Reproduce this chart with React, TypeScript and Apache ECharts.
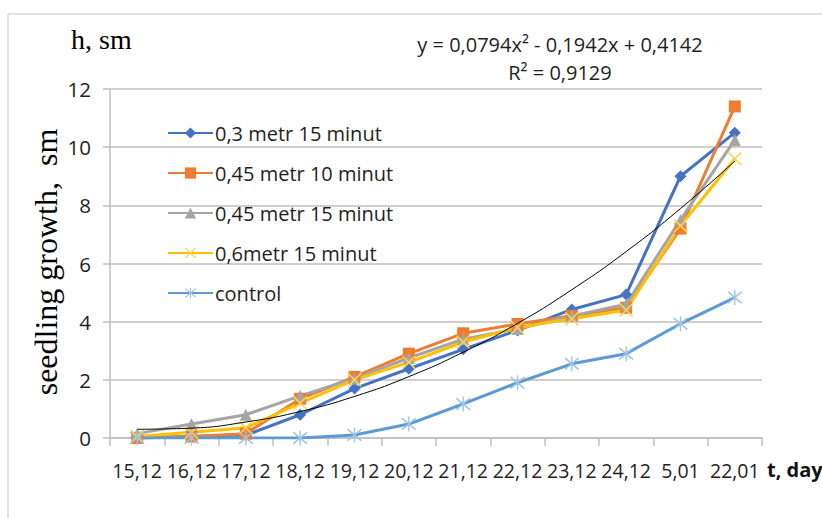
import React, { useEffect, useRef } from "react";
import * as echarts from "echarts";

const categories = ["15,12", "16,12", "17,12", "18,12", "19,12", "20,12", "21,12", "22,12", "23,12", "24,12", "5,01", "22,01"];
const seriesNames = ["0,3 metr 15 minut", "0,45 metr 10 minut", "0,45 metr 15 minut", "0,6metr 15 minut", "control"];
const s03_15 = [0, 0.05, 0.1, 0.8, 1.7, 2.38, 3.05, 3.7, 4.42, 4.93, 9.0, 10.5];
const s045_10 = [0, 0.05, 0.15, 1.35, 2.1, 2.9, 3.6, 3.92, 4.2, 4.48, 7.2, 11.4];
const s045_15 = [0.15, 0.48, 0.8, 1.45, 2.05, 2.75, 3.4, 3.75, 4.2, 4.6, 7.5, 10.25];
const s06_15 = [0.05, 0.2, 0.35, 1.2, 2.0, 2.6, 3.3, 3.8, 4.1, 4.4, 7.3, 9.6];
const control = [0, 0, 0, 0, 0.1, 0.48, 1.17, 1.9, 2.55, 2.9, 3.93, 4.83];
const trend = [0.3, 0.34, 0.55, 0.91, 1.43, 2.11, 2.95, 3.94, 5.1, 6.41, 7.89, 9.52];
const yTicks = { min: 0, max: 12, interval: 2 };
const equationText = "y = 0,0794x\u00B2 - 0,1942x + 0,4142";
const r2Text = "R\u00B2 = 0,9129";

const xPath = "path://M0,0.8L0.8,0L5,4.2L9.2,0L10,0.8L5.8,5L10,9.2L9.2,10L5,5.8L0.8,10L0,9.2L4.2,5Z";
const starPath = "path://M0,0.8L0.8,0L5,4.2L9.2,0L10,0.8L5.8,5L10,9.2L9.2,10L5,5.8L0.8,10L0,9.2L4.2,5ZM4.55,-1L5.45,-1L5.45,11L4.55,11Z";

const SANS = "'Open Sans', sans-serif";
const SERIF = "'Liberation Serif', 'Times New Roman', serif";
const TXT = "#1f1f1f";

export default function App() {
  const ref = useRef<HTMLDivElement>(null);
  useEffect(() => {
    if (!ref.current) return;
    const chart = echarts.init(ref.current, undefined, { renderer: "svg" });
    const mk = (name: string, data: number[], color: string, symbol: string, size: number, symColor: string) => ({
      name,
      type: "line",
      data,
      symbol,
      symbolSize: size,
      showSymbol: true,
      lineStyle: { color, width: 3 },
      itemStyle: { color: symColor, borderColor: symColor, borderWidth: 0 },
      z: 3,
    });
    chart.setOption({
      animation: false,
      grid: { left: 110, right: 60, top: 89, bottom: 80, containLabel: false },
      legend: {
        orient: "vertical",
        left: 162,
        top: 118,
        itemWidth: 45,
        itemHeight: 14,
        itemGap: 20,
        data: seriesNames,
        textStyle: { fontFamily: SANS, fontSize: 20, color: TXT, lineHeight: 20, padding: [0, 0, 0, -3] },
      },
      xAxis: {
        type: "category",
        data: categories,
        boundaryGap: true,
        axisLine: { lineStyle: { color: "#bfbfbf", width: 1.5 } },
        axisTick: { show: true, length: 8, lineStyle: { color: "#bfbfbf", width: 1.5 } },
        axisLabel: { interval: 0, margin: 22, fontFamily: SANS, fontSize: 19.5, color: TXT },
      },
      yAxis: {
        type: "value",
        min: yTicks.min,
        max: yTicks.max,
        interval: yTicks.interval,
        axisLine: { show: true, lineStyle: { color: "#bfbfbf", width: 1.5 } },
        axisTick: { show: true, length: 7, lineStyle: { color: "#bfbfbf", width: 1.5 } },
        axisLabel: { margin: 19, fontFamily: SANS, fontSize: 20.5, color: TXT },
        splitLine: { lineStyle: { color: "#bfbfbf", width: 1.5 } },
      },
      series: [
        mk(seriesNames[0], s03_15, "#4472C4", "diamond", 12, "#4472C4"),
        mk(seriesNames[1], s045_10, "#ED7D31", "rect", 12, "#ED7D31"),
        mk(seriesNames[2], s045_15, "#A5A5A5", "triangle", 12, "#A5A5A5"),
        mk(seriesNames[3], s06_15, "#FFC000", xPath, 14, "#FFD24D"),
        mk(seriesNames[4], control, "#5B9BD5", starPath, 15, "#9DC3E6"),
        {
          name: "trend",
          type: "line",
          data: trend,
          smooth: true,
          showSymbol: false,
          symbol: "none",
          lineStyle: { color: "#000000", width: 1 },
          z: 4,
        },
      ],
      graphic: [
        { type: "line", shape: { x1: 8, y1: 14, x2: 822, y2: 14 }, style: { stroke: "#d9d9d9", lineWidth: 1.5 } },
        { type: "line", shape: { x1: 8, y1: 14, x2: 8, y2: 518 }, style: { stroke: "#d9d9d9", lineWidth: 1.5 } },
        { type: "text", left: 71, top: 25, style: { text: "h, sm", font: `28px ${SERIF}`, fill: "#000" } },
        {
          type: "text",
          x: 46,
          y: 262,
          rotation: Math.PI / 2,
          style: { text: "seedling growth,  sm", font: `32px ${SERIF}`, fill: "#000", textAlign: "center", textVerticalAlign: "middle" },
        },
        { type: "text", x: 560, y: 44, style: { text: equationText, font: `20px ${SANS}`, fill: TXT, textAlign: "center", textVerticalAlign: "middle" } },
        { type: "text", x: 560, y: 72, style: { text: r2Text, font: `20px ${SANS}`, fill: TXT, textAlign: "center", textVerticalAlign: "middle" } },
        { type: "text", x: 767, y: 469, style: { text: "t, day", font: `bold 20px ${SANS}`, fill: "#111", textVerticalAlign: "middle" } },
      ],
    });
    return () => chart.dispose();
  }, []);
  return <div ref={ref} style={{ position: "fixed", left: 0, top: 0, width: 822, height: 518, background: "#fff" }} />;
}
